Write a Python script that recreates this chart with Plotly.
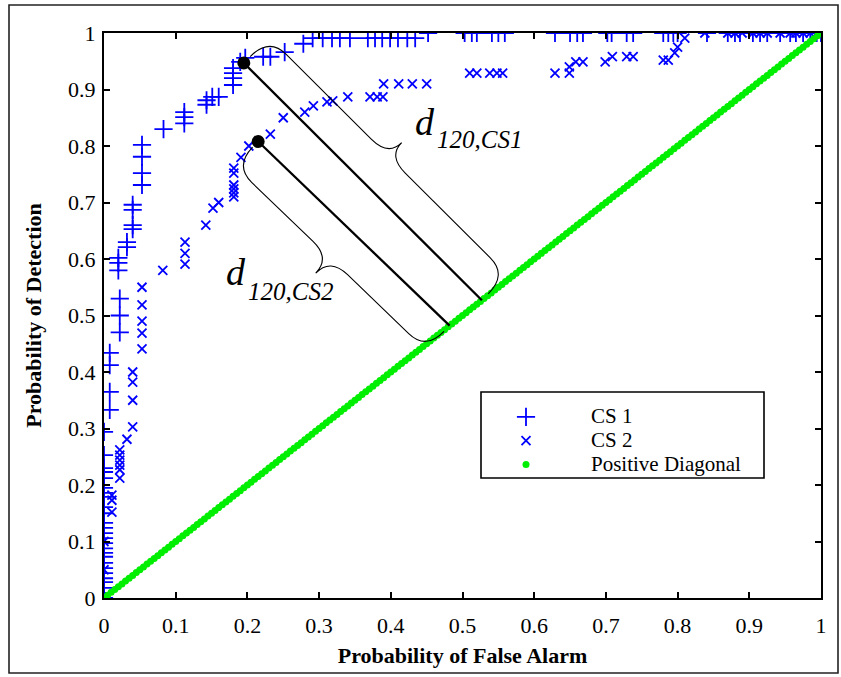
import plotly.graph_objects as go

# ---------------- data ----------------
cs1_x = [0, 0, 0, 0, 0, 0, 0, 0, 0, 0, 0, 0, 0, 0, 0, 0, 0, 0, 0, 0, 0, 0, 0, 0, 0, 0,
         0.008, 0.008, 0.008, 0.008,
         0.022, 0.022, 0.022, 0.020, 0.020, 0.020,
         0.032, 0.032, 0.040, 0.040, 0.040, 0.040,
         0.053, 0.053, 0.053, 0.053,
         0.083, 0.112, 0.112, 0.112, 0.143, 0.143, 0.151, 0.160,
         0.180, 0.180, 0.180, 0.180, 0.190, 0.197, 0.222, 0.232, 0.252, 0.278,
         0.291, 0.305, 0.318, 0.329, 0.343, 0.368, 0.378, 0.388, 0.399, 0.410, 0.423, 0.434,
         0.452, 0.503, 0.513, 0.520, 0.541, 0.550, 0.559, 0.629, 0.650, 0.660, 0.668,
         0.702, 0.708, 0.729, 0.738, 0.780, 0.787, 0.794, 0.800, 0.841, 0.870, 0.880,
         0.887, 0.905, 0.915, 0.925, 0.943, 0.957, 0.965, 0.975, 0.985, 0.994, 1.0]
cs1_y = [0.0, 0.009, 0.018, 0.028, 0.035, 0.044, 0.053, 0.062, 0.073, 0.080, 0.088, 0.097,
         0.106, 0.115, 0.124, 0.133, 0.150, 0.161, 0.179, 0.186, 0.195, 0.212, 0.223, 0.230,
         0.253, 0.294,
         0.333, 0.365, 0.412, 0.434,
         0.470, 0.500, 0.530, 0.580, 0.593, 0.602,
         0.621, 0.630, 0.653, 0.660, 0.687, 0.696,
         0.731, 0.752, 0.781, 0.802,
         0.830, 0.840, 0.851, 0.860, 0.873, 0.881, 0.887, 0.887,
         0.908, 0.920, 0.929, 0.938, 0.949, 0.956, 0.958, 0.958, 0.966, 0.981,
         0.991, 0.991, 0.991, 0.991, 0.991, 0.991, 0.991, 0.991, 0.991, 0.991, 0.991, 0.991,
         1.0, 1.0, 1.0, 1.0, 1.0, 1.0, 1.0, 1.0, 1.0, 1.0, 1.0,
         1.0, 1.0, 1.0, 1.0, 1.0, 1.0, 1.0, 1.0, 1.0, 1.0, 1.0,
         1.0, 1.0, 1.0, 1.0, 1.0, 1.0, 1.0, 1.0, 1.0, 1.0, 1.0]

cs2_x = [0, 0, 0,
         0.011, 0.011, 0.011,
         0.022, 0.022, 0.022, 0.022, 0.022, 0.022,
         0.032, 0.040, 0.040, 0.040, 0.040,
         0.053, 0.053, 0.053, 0.053, 0.053,
         0.082, 0.113, 0.113, 0.113, 0.142, 0.152, 0.160,
         0.181, 0.181, 0.181, 0.181, 0.181, 0.181,
         0.191, 0.202, 0.232, 0.250, 0.280, 0.292, 0.311, 0.319, 0.340,
         0.371, 0.381, 0.389, 0.390, 0.411, 0.430, 0.450,
         0.510, 0.520, 0.538, 0.548, 0.556,
         0.629, 0.649, 0.649, 0.658, 0.668, 0.699, 0.709, 0.729, 0.738,
         0.780, 0.787, 0.796, 0.800, 0.810, 0.838,
         0.870, 0.880, 0.890, 0.905, 0.915, 0.925, 0.943, 0.957, 0.965, 0.975, 0.985, 0.994, 1.0]
cs2_y = [0.0, 0.05, 0.10,
         0.152, 0.173, 0.182,
         0.212, 0.227, 0.235, 0.244, 0.253, 0.262,
         0.281, 0.303, 0.350, 0.382, 0.400,
         0.441, 0.469, 0.490, 0.519, 0.550,
         0.580, 0.591, 0.610, 0.630, 0.660, 0.690, 0.700,
         0.710, 0.717, 0.724, 0.731, 0.752, 0.761,
         0.780, 0.800, 0.821, 0.850, 0.860, 0.871, 0.878, 0.880, 0.887,
         0.887, 0.887, 0.887, 0.910, 0.910, 0.910, 0.910,
         0.929, 0.929, 0.929, 0.929, 0.929,
         0.929, 0.929, 0.940, 0.949, 0.949, 0.949, 0.958, 0.958, 0.958,
         0.952, 0.952, 0.965, 0.975, 0.991, 1.0,
         1.0, 1.0, 1.0, 1.0, 1.0, 1.0, 1.0, 1.0, 1.0, 1.0, 1.0, 1.0, 1.0]

diag_vals = [
    0.000, 0.005, 0.010, 0.015, 0.020, 0.025, 0.030, 0.035, 0.040, 0.045,
    0.050, 0.055, 0.060, 0.065, 0.070, 0.075, 0.080, 0.085, 0.090, 0.095,
    0.100, 0.105, 0.110, 0.115, 0.120, 0.125, 0.130, 0.135, 0.140, 0.145,
    0.150, 0.155, 0.160, 0.165, 0.170, 0.175, 0.180, 0.185, 0.190, 0.195,
    0.200, 0.205, 0.210, 0.215, 0.220, 0.225, 0.230, 0.235, 0.240, 0.245,
    0.250, 0.255, 0.260, 0.265, 0.270, 0.275, 0.280, 0.285, 0.290, 0.295,
    0.300, 0.305, 0.310, 0.315, 0.320, 0.325, 0.330, 0.335, 0.340, 0.345,
    0.350, 0.355, 0.360, 0.365, 0.370, 0.375, 0.380, 0.385, 0.390, 0.395,
    0.400, 0.405, 0.410, 0.415, 0.420, 0.425, 0.430, 0.435, 0.440, 0.445,
    0.450, 0.455, 0.460, 0.465, 0.470, 0.475, 0.480, 0.485, 0.490, 0.495,
    0.500, 0.505, 0.510, 0.515, 0.520, 0.525, 0.530, 0.535, 0.540, 0.545,
    0.550, 0.555, 0.560, 0.565, 0.570, 0.575, 0.580, 0.585, 0.590, 0.595,
    0.600, 0.605, 0.610, 0.615, 0.620, 0.625, 0.630, 0.635, 0.640, 0.645,
    0.650, 0.655, 0.660, 0.665, 0.670, 0.675, 0.680, 0.685, 0.690, 0.695,
    0.700, 0.705, 0.710, 0.715, 0.720, 0.725, 0.730, 0.735, 0.740, 0.745,
    0.750, 0.755, 0.760, 0.765, 0.770, 0.775, 0.780, 0.785, 0.790, 0.795,
    0.800, 0.805, 0.810, 0.815, 0.820, 0.825, 0.830, 0.835, 0.840, 0.845,
    0.850, 0.855, 0.860, 0.865, 0.870, 0.875, 0.880, 0.885, 0.890, 0.895,
    0.900, 0.905, 0.910, 0.915, 0.920, 0.925, 0.930, 0.935, 0.940, 0.945,
    0.950, 0.955, 0.960, 0.965, 0.970, 0.975, 0.980, 0.985, 0.990, 0.995,
    1.000]

# highlighted operating points (d_120) and where their distance segments meet the diagonal
mark_x = [0.195, 0.215]
mark_y = [0.947, 0.808]
foot_vals = [0.527, 0.482]
mark_names = ["CS1", "CS2"]

tick_vals = [0, 0.1, 0.2, 0.3, 0.4, 0.5, 0.6, 0.7, 0.8, 0.9, 1]
tick_text = ["0", "0.1", "0.2", "0.3", "0.4", "0.5", "0.6", "0.7", "0.8", "0.9", "1"]

# ---------------- layout geometry ----------------
W, H = 841, 677
PL, PR, PT, PB = 104, 821, 33, 598
FONT = "Liberation Serif, Times New Roman, serif"


def to_px(x, y):
    return PL + x * (PR - PL), PB - y * (PB - PT)


def to_data(px, py):
    return (px - PL) / (PR - PL), (PB - py) / (PB - PT)


def to_paper(px, py):
    return (px - PL) / (PR - PL), (PB - py) / (PB - PT)


def brace_path(p0, p1, side, v0, h, tip, r):
    (x0, y0), (x1, y1) = p0, p1
    dx, dy = x1 - x0, y1 - y0
    L = (dx * dx + dy * dy) ** 0.5
    ux, uy = dx / L, dy / L
    if side > 0:
        nx, ny = uy, -ux
    else:
        nx, ny = -uy, ux
    m = L / 2

    def P(u, v):
        px = x0 + ux * u + nx * v
        py = y0 + uy * u + ny * v
        dxv, dyv = to_data(px, py)
        return f"{dxv:.5f},{dyv:.5f}"

    return (f"M {P(0, v0)} Q {P(0, h)} {P(r, h)} L {P(m - r, h)} "
            f"Q {P(m, h)} {P(m, tip)} Q {P(m, h)} {P(m + r, h)} "
            f"L {P(L - r, h)} Q {P(L, h)} {P(L, v0)}")


fig = go.Figure()

blue = "#0000FF"
green = "#00EE00"

fig.add_trace(go.Scatter(
    x=cs1_x, y=cs1_y, mode="markers", name='<span style="font-size:21px">CS 1</span>',
    marker=dict(symbol="cross-thin", size=13, color=blue, line=dict(color=blue, width=1.8)),
))
fig.add_trace(go.Scatter(
    x=cs2_x, y=cs2_y, mode="markers", name='<span style="font-size:21px">CS 2</span>',
    marker=dict(symbol="x-thin", size=9, color=blue, line=dict(color=blue, width=1.8)),
))
fig.add_trace(go.Scatter(
    x=diag_vals, y=diag_vals, mode="markers",
    name='<span style="font-size:21px">Positive Diagonal</span>',
    marker=dict(symbol="circle", size=7, color=green, line=dict(width=0)),
))

shapes = []
annotations = []
brace_specs = [(+1, 9, 36, 55, 24), (-1, 8, 34, 55, 24)]
for i in range(2):
    shapes.append(dict(type="line", xref="x", yref="y",
                       x0=mark_x[i], y0=mark_y[i], x1=foot_vals[i], y1=foot_vals[i],
                       line=dict(color="black", width=2.3)))
    side, v0, h, tip, r = brace_specs[i]
    p0 = to_px(mark_x[i], mark_y[i])
    p1 = to_px(foot_vals[i], foot_vals[i])
    shapes.append(dict(type="path", xref="x", yref="y",
                       path=brace_path(p0, p1, side, v0, h, tip, r),
                       line=dict(color="black", width=1.1)))

fig.add_trace(go.Scatter(
    x=mark_x, y=mark_y, mode="markers", showlegend=False,
    marker=dict(symbol="circle", size=13, color="black"),
))

# labels d_{120,CS1}, d_{120,CS2}
label_pos = [((413, 122), (435, 139)), ((224, 272), (246, 291))]
for i in range(2):
    (dxp, dyp), (sxp, syp) = label_pos[i]
    ax, ay = to_paper(dxp, dyp)
    annotations.append(dict(xref="paper", yref="paper", x=ax, y=ay, xanchor="left",
                            yanchor="middle", showarrow=False, text="<i>d</i>",
                            font=dict(family=FONT, size=38, color="black")))
    ax, ay = to_paper(sxp, syp)
    annotations.append(dict(xref="paper", yref="paper", x=ax, y=ay, xanchor="left",
                            yanchor="middle", showarrow=False,
                            text=f"<i>120,{mark_names[i]}</i>",
                            font=dict(family=FONT, size=25, color="black")))

# outer frame
fx0, fy0 = to_paper(9, 673)
fx1, fy1 = to_paper(838, 5)
shapes.append(dict(type="rect", xref="paper", yref="paper", x0=fx0, y0=fy0, x1=fx1, y1=fy1,
                   line=dict(color="#222222", width=1.6), layer="above"))
# legend box
lx0, ly0 = to_paper(481, 478)
lx1, ly1 = to_paper(764, 392)
shapes.append(dict(type="rect", xref="paper", yref="paper", x0=lx0, y0=ly0, x1=lx1, y1=ly1,
                   line=dict(color="black", width=1.6), fillcolor="white", layer="below"))

legx, legy = to_paper(461, 400)

axis_common = dict(
    range=[0, 1], tickvals=tick_vals, ticktext=tick_text,
    showline=True, linecolor="black", linewidth=2, mirror="ticks",
    ticks="inside", ticklen=6, tickwidth=1.5, tickcolor="black",
    showgrid=False, zeroline=False,
    tickfont=dict(family=FONT, size=22, color="black"),
)

fig.update_layout(
    width=W, height=H,
    margin=dict(l=PL, r=W - PR, t=PT, b=H - PB),
    paper_bgcolor="white", plot_bgcolor="white",
    xaxis=dict(**axis_common, ticklabelstandoff=7,
               title=dict(text="<b>Probability of False Alarm</b>", standoff=10,
                          font=dict(family=FONT, size=22, color="black"))),
    yaxis=dict(**axis_common, ticklabelstandoff=2,
               title=dict(text="<b>Probability of Detection</b>", standoff=20,
                          font=dict(family=FONT, size=22, color="black"))),
    legend=dict(x=legx, y=legy, xanchor="left", yanchor="top",
                bgcolor="rgba(0,0,0,0)", borderwidth=0, itemwidth=120,
                font=dict(family=FONT, size=16, color="black")),
    shapes=shapes,
    annotations=annotations,
    showlegend=True,
)

fig.write_html("out.html")
